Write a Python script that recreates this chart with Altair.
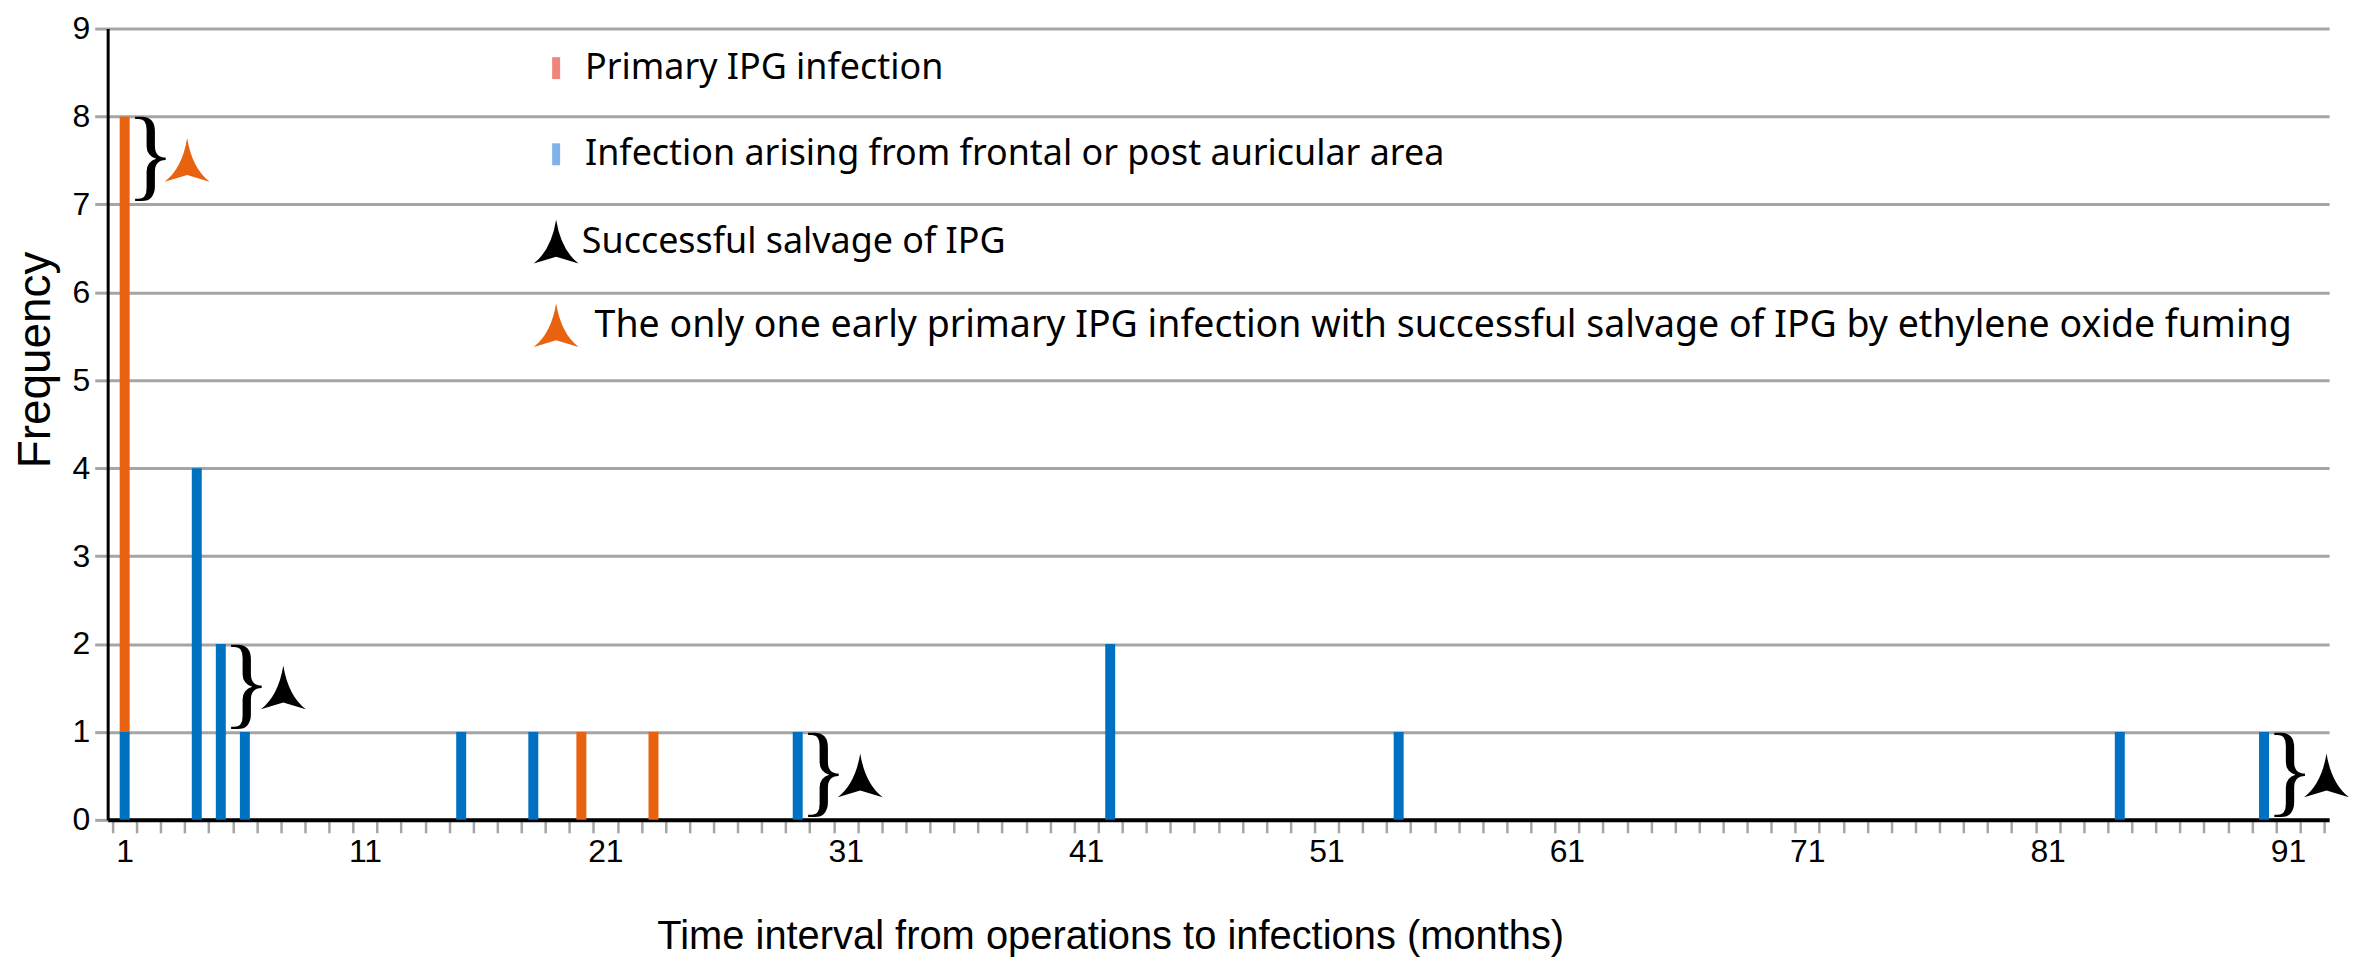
import altair as alt
import pandas as pd

# ---------------- data ----------------
frontal_months = [1, 4, 5, 6, 15, 18, 29, 42, 54, 84, 90]
frontal_counts = [1, 4, 2, 1, 1, 1, 1, 2, 1, 1, 1]
primary_months = [1, 20, 23]
primary_counts = [7, 1, 1]

series_names = ["Infection arising from frontal or post auricular area", "Primary IPG infection"]
series_colors = ["#0070C0", "#E8620F"]

# brackets "}" with arrowheads (successful salvage)
salvage_months = [1, 5, 29, 90]
salvage_low = [7, 1, 0, 0]
salvage_high = [8, 2, 1, 1]
salvage_kind = ["early", "salvage", "salvage", "salvage"]
kind_colors = {"early": "#E8620F", "salvage": "#000000"}

first_month, last_month = 1, 92
freq_ticks = list(range(0, 10))
month_labels = list(range(1, 92, 10))

legend_labels = [
    "Primary IPG infection",
    "Infection arising from frontal or post auricular area",
    "Successful salvage of IPG",
    "The only one early primary IPG infection with successful salvage of IPG by ethylene oxide fuming",
]
legend_marker_colors = ["#F0857D", "#7DB3EA", "#000000", "#E8620F"]
legend_marker_kind = ["bar", "bar", "arrow", "arrow"]

# ---------------- layout / style ----------------
W, H = 2229, 794
band_px = W / (last_month - first_month + 1)
legend_rows_y = [8.55, 7.57, 6.57, 5.62]
legend_marker_x = 18.95
legend_text_x = [20.15, 20.15, 20.02, 20.55]
legend_font_sizes = [36, 36, 36, 37.6]
arrow_offset = 2.6
GRID = "#A5A5A5"
AXIS_FONT = "Liberation Sans"
LEGEND_FONT = "Noto Sans"

ARROW = "M0,-1 Q0.22,0.35 1,0.95 L0,0.65 L-1,0.95 Q-0.22,0.35 0,-1 Z"
RECT = "M-0.2,-0.55 L0.2,-0.55 L0.2,0.55 L-0.2,0.55 Z"
ARROW_SIZE = 2025

# ---------------- tables ----------------
bars_df = pd.DataFrame(
    [{"month": m, "count": c, "series": series_names[0], "stack_order": 0}
     for m, c in zip(frontal_months, frontal_counts)]
    + [{"month": m, "count": c, "series": series_names[1], "stack_order": 1}
       for m, c in zip(primary_months, primary_counts)]
)

sal_df = pd.DataFrame({
    "month": salvage_months,
    "low": salvage_low,
    "high": salvage_high,
    "color": [kind_colors[k] for k in salvage_kind],
})
sal_df["mid"] = (sal_df["low"] + sal_df["high"]) / 2

leg_df = pd.DataFrame({
    "label": legend_labels,
    "y": legend_rows_y,
    "text_x": legend_text_x,
    "marker_x": [legend_marker_x] * len(legend_labels),
    "color": legend_marker_colors,
    "kind": legend_marker_kind,
    "fs": legend_font_sizes,
})

x_scale = alt.Scale(domain=[first_month - 0.5, last_month + 0.5], nice=False, zero=False)
y_scale = alt.Scale(domain=[0, 9], nice=False)

X_TITLE = "Time interval from operations to infections (months)"
Y_TITLE = "Frequency"

x_axis = alt.Axis(
    values=[m + 0.5 for m in range(first_month - 1, last_month + 1)],
    labelExpr="indexof(" + str(month_labels) + ", datum.value - 0.5) >= 0 ? format(datum.value - 0.5, 'd') : ''",
    labelOffset=-band_px / 2,
    labelFlush=False,
    labelFont=AXIS_FONT, labelFontSize=32, labelColor="#000000", labelPadding=4,
    tickColor=GRID, tickWidth=2.5, tickSize=13,
    domainColor="#000000", domainWidth=4,
    grid=False,
    title=X_TITLE,
    titleFont=AXIS_FONT, titleFontSize=40, titleFontWeight="normal", titleColor="#000000",
    titleX=1006, titleY=117, titleAlign="center", titleBaseline="middle",
)
y_axis = alt.Axis(
    values=freq_ticks,
    grid=True, gridColor=GRID, gridWidth=3,
    tickColor=GRID, tickWidth=3, tickSize=13,
    domainColor="#000000", domainWidth=3,
    labelFont=AXIS_FONT, labelFontSize=32, labelColor="#000000", labelPadding=5,
    title=Y_TITLE,
    titleFont=AXIS_FONT, titleFontSize=46, titleFontWeight="normal", titleColor="#000000",
    titleX=-72, titleY=332, titleAngle=270, titleAlign="center", titleBaseline="middle",
)


def X(field):
    return alt.X(field, scale=x_scale, axis=x_axis, title=X_TITLE)


def Y(field, **kw):
    return alt.Y(field, scale=y_scale, axis=y_axis, title=Y_TITLE, **kw)


bars = alt.Chart(bars_df).mark_bar(size=10, orient="vertical").encode(
    x=X("month:Q"),
    y=Y("count:Q", stack="zero"),
    color=alt.Color("series:N", scale=alt.Scale(domain=series_names, range=series_colors), legend=None),
    order=alt.Order("stack_order:Q"),
)

braces = alt.Chart(sal_df).mark_text(
    text="}", font="Liberation Serif", fontSize=103, align="left", baseline="middle",
    dx=1, dy=-4, color="#000000",
).encode(
    x=X("month:Q"),
    y=Y("mid:Q"),
)

arrows = alt.Chart(sal_df).transform_calculate(
    ax="datum.month + " + str(arrow_offset)
).mark_point(shape=ARROW, filled=True, size=ARROW_SIZE, opacity=1, strokeWidth=0).encode(
    x=X("ax:Q"),
    y=Y("mid:Q"),
    color=alt.Color("color:N", scale=None),
)

leg_bars = alt.Chart(leg_df).transform_filter("datum.kind == 'bar'").mark_point(
    shape=RECT, filled=True, size=1600, opacity=1, strokeWidth=0
).encode(
    x=X("marker_x:Q"),
    y=Y("y:Q"),
    color=alt.Color("color:N", scale=None),
)
leg_arrows = alt.Chart(leg_df).transform_filter("datum.kind == 'arrow'").mark_point(
    shape=ARROW, filled=True, size=ARROW_SIZE, opacity=1, strokeWidth=0
).encode(
    x=X("marker_x:Q"),
    y=Y("y:Q"),
    color=alt.Color("color:N", scale=None),
)
leg_text = alt.Chart(leg_df).mark_text(
    align="left", baseline="middle", font=LEGEND_FONT, color="#000000"
).encode(
    x=X("text_x:Q"),
    y=Y("y:Q"),
    text="label:N",
    size=alt.Size("fs:Q", scale=None),
)

chart = alt.layer(bars, braces, arrows, leg_bars, leg_arrows, leg_text).properties(
    width=W, height=H,
    autosize=alt.AutoSizeParams(type="none"),
    padding={"left": 100, "top": 19, "right": 29, "bottom": 141},
    background="#FFFFFF",
).configure_view(stroke=None)

chart.save("out.html", embed_options={"renderer": "svg", "actions": False})
